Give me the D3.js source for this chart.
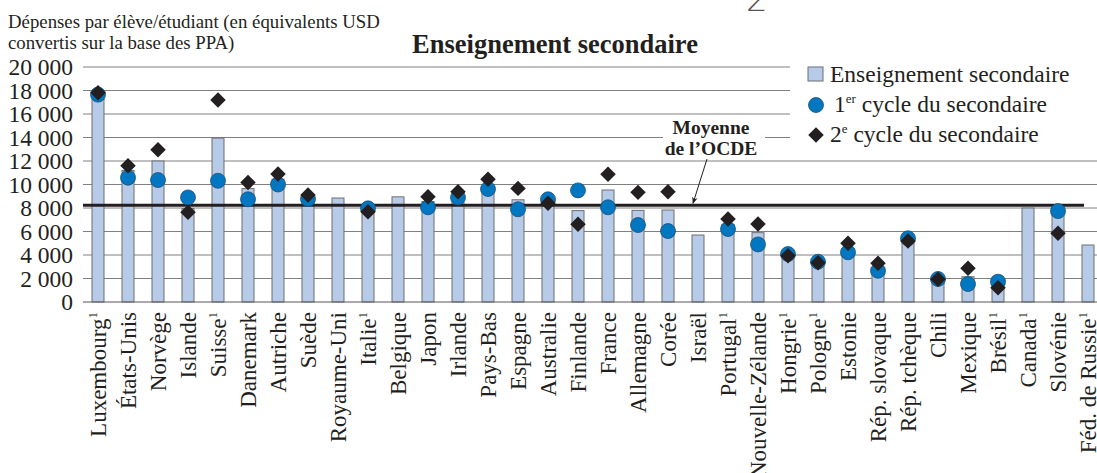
<!DOCTYPE html>
<html>
<head>
<meta charset="utf-8">
<script src="https://cdn.jsdelivr.net/npm/d3@7"></script>
<style>
  body { margin: 0; background: #fff; }
  svg { display: block; font-family: "Liberation Serif", "Times New Roman", serif; }
</style>
</head>
<body>
<svg id="chart" width="1097" height="473"></svg>
<script>
// countries, in chart order; footnoted ones get a superscript "1"
var countries = ["Luxembourg", "États-Unis", "Norvège", "Islande", "Suisse", "Danemark", "Autriche",
  "Suède", "Royaume-Uni", "Italie", "Belgique", "Japon", "Irlande", "Pays-Bas", "Espagne", "Australie",
  "Finlande", "France", "Allemagne", "Corée", "Israël", "Portugal", "Nouvelle-Zélande", "Hongrie",
  "Pologne", "Estonie", "Rép. slovaque", "Rép. tchèque", "Chili", "Mexique", "Brésil", "Canada",
  "Slovénie", "Féd. de Russie"];
var footnoted = ["Luxembourg", "Suisse", "Italie", "Portugal", "Hongrie", "Pologne", "Brésil", "Canada", "Féd. de Russie"];

// Enseignement secondaire (bars)
var secondaire = [17700, 11200, 12000, 7950, 13950, 9650, 10450, 8950, 8850, 8000, 8950, 8550, 9100, 9800,
  8700, 8700, 7780, 9530, 7800, 7830, 5700, 6600, 5900, 4200, 3500, 4550, 2900, 5300, 2000, 2150,
  1750, 8000, 7500, 4850];
// 1er cycle du secondaire (circles), null = missing
var premierCycle = [17650, 10580, 10380, 8900, 10320, 8740, 10000, 8770, null, 7970, null, 8060, 8900, 9620,
  7890, 8740, 9500, 8060, 6550, 6040, null, 6210, 4900, 4080, 3430, 4230, 2660, 5420, 1960, 1530,
  1730, null, 7740, null];
// 2e cycle du secondaire (diamonds)
var secondCycle = [17800, 11600, 12950, 7630, 17200, 10180, 10900, 9100, null, 7690, null, 8960, 9390, 10440,
  9670, 8400, 6610, 10870, 9330, 9390, null, 7060, 6640, 3940, 3350, 5000, 3290, 5190, 1930, 2870,
  1220, null, 5850, null];
var oecdMean = 8230;
var yTicks = [0, 2000, 4000, 6000, 8000, 10000, 12000, 14000, 16000, 18000, 20000];

var svg = d3.select("#chart");
var plotL = 83, plotR = 1103, plotT = 67, plotB = 302, legendLeft = 790;

var x = d3.scaleBand().domain(countries).range([plotL, plotR]).paddingInner(0.6).paddingOuter(0.3);
var y = d3.scaleLinear().domain([0, 20000]).range([plotB, plotT]);
var fr = d3.formatLocale({ decimal: ",", thousands: " ", grouping: [3], currency: ["", " €"] });
var fmt = fr.format(",d");

// gridlines (top ones stop at the legend)
svg.append("g").selectAll("line").data(yTicks.filter(d => d > 0)).join("line")
  .attr("x1", plotL).attr("x2", d => d >= 14000 ? legendLeft : plotR)
  .attr("y1", d => y(d)).attr("y2", d => y(d))
  .attr("stroke", "#808080").attr("stroke-width", 1);

// y axis labels
var yAxis = d3.axisLeft(y).tickValues(yTicks).tickSize(0).tickPadding(10).tickFormat(fmt);
var ga = svg.append("g").attr("transform", "translate(" + plotL + ",0)").call(yAxis);
ga.select(".domain").remove();
ga.selectAll("text").attr("font-family", "Liberation Serif").attr("font-size", 23.5).attr("fill", "#231f20");

// bars
svg.append("g").selectAll("rect").data(countries).join("rect")
  .attr("x", d => x(d)).attr("width", x.bandwidth())
  .attr("y", (d, i) => y(secondaire[i])).attr("height", (d, i) => plotB - y(secondaire[i]))
  .attr("fill", "#b7cbe8").attr("stroke", "#6d6e71").attr("stroke-width", 1);

// baseline
svg.append("line").attr("x1", plotL).attr("x2", plotR).attr("y1", y(0)).attr("y2", y(0))
  .attr("stroke", "#58595b").attr("stroke-width", 1.2);

// OECD mean
svg.append("line").attr("x1", plotL).attr("x2", x("Féd. de Russie") + 2).attr("y1", y(oecdMean)).attr("y2", y(oecdMean))
  .attr("stroke", "#231f20").attr("stroke-width", 3);

// circles
svg.append("g").selectAll("circle").data(countries.filter((d, i) => premierCycle[i] != null)).join("circle")
  .attr("cx", d => x(d) + x.bandwidth() / 2)
  .attr("cy", d => y(premierCycle[countries.indexOf(d)]))
  .attr("r", 7.5).attr("fill", "#0077c0").attr("stroke", "#1f4e79").attr("stroke-width", 0.8);

// diamonds
var diamond = d3.symbol().type(d3.symbolSquare).size(120);
svg.append("g").selectAll("path").data(countries.filter((d, i) => secondCycle[i] != null)).join("path")
  .attr("d", diamond)
  .attr("transform", d => "translate(" + (x(d) + x.bandwidth() / 2) + "," + y(secondCycle[countries.indexOf(d)]) + ") rotate(45)")
  .attr("fill", "#231f20");

// x labels
var xl = svg.append("g").selectAll("text").data(countries).join("text")
  .attr("transform", d => "translate(" + (x(d) + x.bandwidth() / 2 + 8) + "," + (plotB + 10) + ") rotate(-90)")
  .attr("text-anchor", "end").attr("font-size", 23).attr("fill", "#231f20");
xl.append("tspan").text(d => d);
xl.filter(d => footnoted.includes(d)).append("tspan").text("1")
  .attr("font-size", 13).attr("dy", -9);

// title and axis caption
svg.append("text").attr("x", 555).attr("y", 53).attr("text-anchor", "middle")
  .attr("font-size", 26.5).attr("font-weight", "bold").attr("fill", "#231f20").text("Enseignement secondaire");
svg.append("text").attr("x", 8).attr("y", 28).attr("font-size", 18.8).attr("fill", "#231f20")
  .text("Dépenses par élève/étudiant (en équivalents USD");
svg.append("text").attr("x", 8).attr("y", 49).attr("font-size", 18.8).attr("fill", "#231f20")
  .text("convertis sur la base des PPA)");
svg.append("text").attr("x", 746).attr("y", 11).attr("font-size", 34).attr("font-family", "DejaVu Sans")
  .attr("font-weight", 200).attr("fill", "#555").text("2");

// OECD mean annotation
svg.append("rect").attr("x", 663).attr("y", 117).attr("width", 102).attr("height", 42).attr("fill", "#fff");
var ann = svg.append("text").attr("text-anchor", "middle").attr("font-size", 19.5).attr("font-weight", "bold").attr("fill", "#231f20");
ann.append("tspan").attr("x", 711).attr("y", 134).text("Moyenne");
ann.append("tspan").attr("x", 711).attr("y", 155).text("de l\u2019OCDE");
svg.append("defs").append("marker").attr("id", "arr").attr("viewBox", "0 0 10 10")
  .attr("refX", 9).attr("refY", 5).attr("markerWidth", 7).attr("markerHeight", 7).attr("orient", "auto")
  .append("path").attr("d", "M0,1 L10,5 L0,9 L3,5 Z").attr("fill", "#231f20");
svg.append("line").attr("x1", 707).attr("y1", 159).attr("x2", 693).attr("y2", y(oecdMean) - 2)
  .attr("stroke", "#231f20").attr("stroke-width", 1).attr("marker-end", "url(#arr)");

// legend
var lg = svg.append("g").attr("font-size", 23.5).attr("fill", "#231f20");
lg.append("rect").attr("x", 808).attr("y", 67).attr("width", 15).attr("height", 14)
  .attr("fill", "#b7cbe8").attr("stroke", "#6d6e71");
lg.append("text").attr("x", 830).attr("y", 82).text("Enseignement secondaire");
lg.append("circle").attr("cx", 816).attr("cy", 105).attr("r", 7.5).attr("fill", "#0077c0").attr("stroke", "#1f4e79").attr("stroke-width", 0.8);
var t1 = lg.append("text").attr("x", 834).attr("y", 112);
t1.append("tspan").text("1");
t1.append("tspan").attr("font-size", 13).attr("dy", -9).text("er");
t1.append("tspan").attr("dy", 9).text(" cycle du secondaire");
lg.append("path").attr("d", diamond).attr("transform", "translate(816,135) rotate(45)").attr("fill", "#231f20");
var t2 = lg.append("text").attr("x", 830).attr("y", 142);
t2.append("tspan").text("2");
t2.append("tspan").attr("font-size", 13).attr("dy", -9).text("e");
t2.append("tspan").attr("dy", 9).text(" cycle du secondaire");
</script>
</body>
</html>
